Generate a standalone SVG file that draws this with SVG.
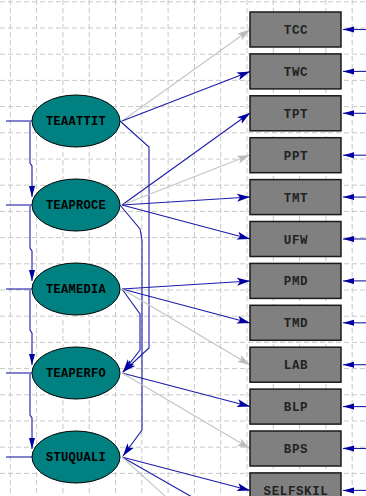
<svg xmlns="http://www.w3.org/2000/svg" width="366" height="496" viewBox="0 0 366 496">
<defs>
<style>
.grid line{stroke:#c8c8c8;stroke-width:1;stroke-dasharray:5 3}
.lat ellipse{fill:#008080;stroke:#000;stroke-width:1}
.lat text{font-family:"Liberation Mono",monospace;font-size:12px;font-weight:bold;fill:#000;text-anchor:middle;letter-spacing:0.3px}
.obs rect{fill:#808080;stroke:#1a1a1a;stroke-width:1.5}
.obs text{font-family:"Liberation Mono",monospace;font-size:12.5px;font-weight:bold;fill:#222;text-anchor:middle;letter-spacing:0.6px}
.b{fill:none;stroke:#1c1ca8;stroke-width:1.1}
.g{fill:none;stroke:#c4c4c4;stroke-width:1.1}
.bm{marker-end:url(#ab)}
.gm{marker-end:url(#ag)}
.em{marker-end:url(#ae)}
.vm{marker-end:url(#av)}
</style>
<marker id="ab" markerUnits="userSpaceOnUse" markerWidth="14" markerHeight="9" refX="13" refY="4.5" orient="auto"><path d="M0,0.5 L13,4.5 L0,8.5 L3,4.5 z" fill="#0000a0"/></marker>
<marker id="ag" markerUnits="userSpaceOnUse" markerWidth="14" markerHeight="9" refX="13" refY="4.5" orient="auto"><path d="M0,0.5 L13,4.5 L0,8.5 L3,4.5 z" fill="#bcbcbc"/></marker>
<marker id="ae" markerUnits="userSpaceOnUse" markerWidth="12" markerHeight="7" refX="11" refY="3.5" orient="auto"><path d="M0,0.5 L11,3.5 L0,6.5 z" fill="#0000a0"/></marker>
<marker id="av" markerUnits="userSpaceOnUse" markerWidth="12" markerHeight="7" refX="11" refY="3.5" orient="auto"><path d="M0,0.5 L11,3.5 L0,6.5 z" fill="#0000a0"/></marker>
</defs>
<rect width="366" height="496" fill="#fff"/>
<g class="grid">
<line x1="10.3" y1="0" x2="10.3" y2="496"/><line x1="36.6" y1="0" x2="36.6" y2="496"/><line x1="62.9" y1="0" x2="62.9" y2="496"/><line x1="89.2" y1="0" x2="89.2" y2="496"/><line x1="115.5" y1="0" x2="115.5" y2="496"/><line x1="141.8" y1="0" x2="141.8" y2="496"/><line x1="168.1" y1="0" x2="168.1" y2="496"/><line x1="194.4" y1="0" x2="194.4" y2="496"/><line x1="220.7" y1="0" x2="220.7" y2="496"/><line x1="247" y1="0" x2="247" y2="496"/><line x1="273.3" y1="0" x2="273.3" y2="496"/><line x1="299.6" y1="0" x2="299.6" y2="496"/><line x1="325.9" y1="0" x2="325.9" y2="496"/><line x1="352.2" y1="0" x2="352.2" y2="496"/>
<line x1="0" y1="1.8" x2="366" y2="1.8"/><line x1="0" y1="28" x2="366" y2="28"/><line x1="0" y1="54.2" x2="366" y2="54.2"/><line x1="0" y1="80.4" x2="366" y2="80.4"/><line x1="0" y1="106.6" x2="366" y2="106.6"/><line x1="0" y1="132.8" x2="366" y2="132.8"/><line x1="0" y1="159" x2="366" y2="159"/><line x1="0" y1="185.2" x2="366" y2="185.2"/><line x1="0" y1="211.4" x2="366" y2="211.4"/><line x1="0" y1="237.6" x2="366" y2="237.6"/><line x1="0" y1="263.8" x2="366" y2="263.8"/><line x1="0" y1="290" x2="366" y2="290"/><line x1="0" y1="316.2" x2="366" y2="316.2"/><line x1="0" y1="342.4" x2="366" y2="342.4"/><line x1="0" y1="368.6" x2="366" y2="368.6"/><line x1="0" y1="394.8" x2="366" y2="394.8"/><line x1="0" y1="421" x2="366" y2="421"/><line x1="0" y1="447.2" x2="366" y2="447.2"/><line x1="0" y1="473.4" x2="366" y2="473.4"/>
</g>
<g id="connectors">
<path class="b" d="M6,121 L32,121"/>
<path class="b" d="M6,205 L32,205"/>
<path class="b" d="M6,289 L32,289"/>
<path class="b" d="M6,373 L32,373"/>
<path class="b" d="M6,457 L32,457"/>
<path class="b vm" d="M30,122 L30,163 L32,166 L32,197"/>
<path class="b vm" d="M30,206 L30,248 L32,251 L32,281"/>
<path class="b vm" d="M30,290 L30,330 L32,333 L32,365"/>
<path class="b vm" d="M30,374 L30,415 L32,418 L32,449"/>
<path class="b bm" d="M120,121 L149,147 L149,348 L123,372"/>
<path class="b bm" d="M120,205 L140,229 L142,240 L142,430 L123,456"/>
<path class="b bm" d="M122,289 L140,314 L140,350 L123,372"/>
<path class="g gm" d="M122,121 L250,29.5"/>
<path class="b bm" d="M122,121 L250,71.5"/>
<path class="b bm" d="M122,205 L250,113"/>
<path class="g gm" d="M122,205 L250,155"/>
<path class="b bm" d="M122,205 L250,197"/>
<path class="b bm" d="M122,205 L250,239"/>
<path class="b bm" d="M122,289 L250,281"/>
<path class="b bm" d="M122,289 L250,323"/>
<path class="g gm" d="M122,289 L250,365"/>
<path class="b bm" d="M122,373 L250,406.5"/>
<path class="g gm" d="M122,373 L250,448.5"/>
<path class="b bm" d="M122,457 L250,490.5"/>
<path class="b" d="M122,457 L192,497"/>
<path class="g" d="M122,457 L166,497"/>
<path class="b em" d="M366,29.5 L343,29.5"/>
<path class="b em" d="M366,71.4 L343,71.4"/>
<path class="b em" d="M366,113.3 L343,113.3"/>
<path class="b em" d="M366,155.2 L343,155.2"/>
<path class="b em" d="M366,197.1 L343,197.1"/>
<path class="b em" d="M366,239 L343,239"/>
<path class="b em" d="M366,280.9 L343,280.9"/>
<path class="b em" d="M366,322.8 L343,322.8"/>
<path class="b em" d="M366,364.7 L343,364.7"/>
<path class="b em" d="M366,406.6 L343,406.6"/>
<path class="b em" d="M366,448.5 L343,448.5"/>
<path class="b em" d="M366,490.4 L343,490.4"/>
</g>
<g id="TEAATTIT" class="lat"><ellipse cx="76" cy="121" rx="44" ry="26"/><text x="76" y="125">TEAATTIT</text></g>
<g id="TEAPROCE" class="lat"><ellipse cx="76" cy="205" rx="44" ry="26"/><text x="76" y="209">TEAPROCE</text></g>
<g id="TEAMEDIA" class="lat"><ellipse cx="76" cy="289" rx="44" ry="26"/><text x="76" y="293">TEAMEDIA</text></g>
<g id="TEAPERFO" class="lat"><ellipse cx="76" cy="373" rx="44" ry="26"/><text x="76" y="377">TEAPERFO</text></g>
<g id="STUQUALI" class="lat"><ellipse cx="76" cy="457" rx="44" ry="26"/><text x="76" y="461">STUQUALI</text></g>
<g id="TCC" class="obs"><rect x="250" y="12" width="91" height="35"/><text x="296" y="34">TCC</text></g>
<g id="TWC" class="obs"><rect x="250" y="53.9" width="91" height="35"/><text x="296" y="75.9">TWC</text></g>
<g id="TPT" class="obs"><rect x="250" y="95.8" width="91" height="35"/><text x="296" y="117.8">TPT</text></g>
<g id="PPT" class="obs"><rect x="250" y="137.7" width="91" height="35"/><text x="296" y="159.7">PPT</text></g>
<g id="TMT" class="obs"><rect x="250" y="179.6" width="91" height="35"/><text x="296" y="201.6">TMT</text></g>
<g id="UFW" class="obs"><rect x="250" y="221.5" width="91" height="35"/><text x="296" y="243.5">UFW</text></g>
<g id="PMD" class="obs"><rect x="250" y="263.4" width="91" height="35"/><text x="296" y="285.4">PMD</text></g>
<g id="TMD" class="obs"><rect x="250" y="305.3" width="91" height="35"/><text x="296" y="327.3">TMD</text></g>
<g id="LAB" class="obs"><rect x="250" y="347.2" width="91" height="35"/><text x="296" y="369.2">LAB</text></g>
<g id="BLP" class="obs"><rect x="250" y="389.1" width="91" height="35"/><text x="296" y="411.1">BLP</text></g>
<g id="BPS" class="obs"><rect x="250" y="431" width="91" height="35"/><text x="296" y="453">BPS</text></g>
<g id="SELFSKIL" class="obs"><rect x="250" y="472.9" width="91" height="35"/><text x="296" y="494.5">SELFSKIL</text></g>
</svg>
